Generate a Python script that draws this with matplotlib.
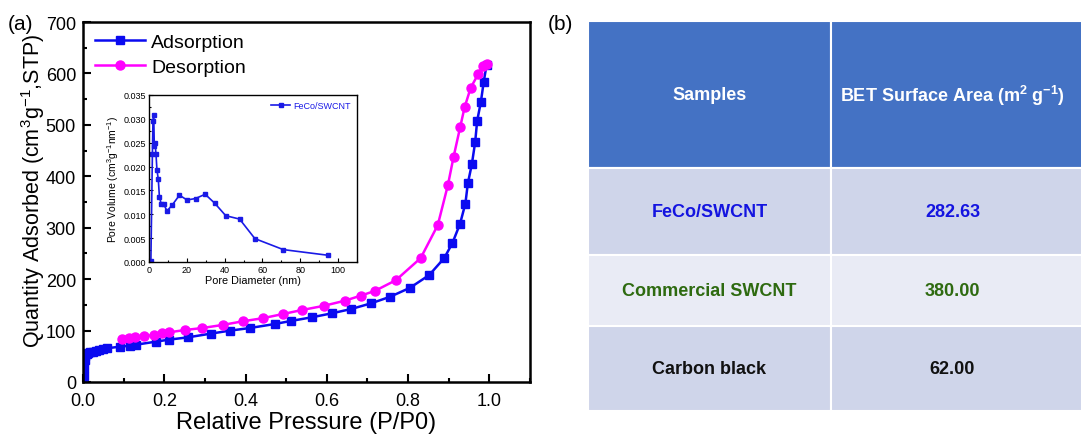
import matplotlib
matplotlib.use("Agg")
import matplotlib.pyplot as plt
from matplotlib.patches import Rectangle
from matplotlib.ticker import MultipleLocator, FormatStrFormatter

plt.rcParams['font.family'] = ['Liberation Sans', 'DejaVu Sans']
plt.rcParams['mathtext.fontset'] = 'custom'
plt.rcParams['mathtext.rm'] = 'Liberation Sans'
plt.rcParams['mathtext.bf'] = 'Liberation Sans:bold'
plt.rcParams['mathtext.default'] = 'regular'

# N2 isotherm (main panel)
ads_p = [0.001, 0.002, 0.003, 0.004, 0.006, 0.009, 0.013, 0.018, 0.024, 0.031, 0.040,
         0.050, 0.058, 0.091, 0.116, 0.131, 0.179, 0.211, 0.258, 0.314, 0.361, 0.411,
         0.472, 0.511, 0.563, 0.612, 0.660, 0.709, 0.756, 0.805, 0.852, 0.889, 0.909,
         0.928, 0.941, 0.947, 0.957, 0.965, 0.970, 0.979, 0.986, 0.993]
ads_q = [2, 12, 28, 42, 50, 54, 56, 57.5, 59, 60.5, 62, 64, 65.5, 68.7, 70.6, 72.6,
         78.4, 82.3, 86.8, 94, 99.8, 105, 112.8, 118.6, 125.8, 133.5, 141.9, 153,
         165.8, 183.3, 208, 241, 270, 308, 347, 386, 424, 466, 508, 544, 583, 616]
des_p = [0.993, 0.985, 0.972, 0.954, 0.939, 0.928, 0.912, 0.898, 0.873, 0.831, 0.770,
         0.718, 0.684, 0.644, 0.592, 0.539, 0.491, 0.442, 0.393, 0.344, 0.294, 0.250,
         0.212, 0.194, 0.174, 0.149, 0.128, 0.112, 0.097]
des_q = [618, 614, 598, 572, 534, 495, 438, 383, 305, 241, 198, 177, 168, 158, 148,
         140, 132, 124, 118, 111, 105, 101, 96.6, 94.7, 91.4, 88.8, 86.8, 85, 83.6]

# pore size distribution (inset)
pore_d = [1.0, 1.8, 2.1, 2.5, 2.8, 3.2, 3.7, 4.2, 4.9, 5.5, 6.5, 7.8, 9.5, 12.2, 16.1,
          20.1, 24.6, 29.7, 34.8, 40.6, 47.9, 56.0, 71.0, 94.9]
pore_v = [0.0003, 0.0227, 0.0296, 0.0309, 0.0243, 0.0249, 0.0226, 0.0193, 0.0174,
          0.0137, 0.0121, 0.0121, 0.0107, 0.0119, 0.0140, 0.0130, 0.0133, 0.0142,
          0.0123, 0.0097, 0.0090, 0.0049, 0.0026, 0.0014]

# table (panel b)
col_labels = ['Samples', r'BET Surface Area (m$^\mathbf{2}$ g$^\mathbf{-1}$)']
samples = ['FeCo/SWCNT', 'Commercial SWCNT', 'Carbon black']
bet_area = ['282.63', '380.00', '62.00']
text_colors = ['#1414E0', '#2E6A10', '#111111']
row_fill = ['#CFD5EA', '#E9EBF5', '#CFD5EA']

W, H = 1081, 439
fig = plt.figure(figsize=(W / 100, H / 100), dpi=100)

ax = fig.add_axes([83 / W, 56 / H, 447 / W, 360 / H])
ax.plot(ads_p, ads_q, '-s', color='#0A0AF0', lw=1.8, ms=6, label='Adsorption')
ax.plot(des_p, des_q, '-o', color='#FF00FF', lw=1.8, ms=6.5, label='Desorption')
ax.set_xlim(0, 1.1)
ax.set_ylim(0, 700)
ax.xaxis.set_major_locator(MultipleLocator(0.2))
ax.xaxis.set_minor_locator(MultipleLocator(0.1))
ax.yaxis.set_major_locator(MultipleLocator(100))
ax.yaxis.set_minor_locator(MultipleLocator(50))
ax.tick_params(which='both', direction='in', width=1.5, labelsize=13)
ax.tick_params(which='major', length=6)
ax.tick_params(which='minor', length=3)
ax.tick_params(axis='x', pad=7)
ax.tick_params(axis='y', pad=5)
for s in ax.spines.values():
    s.set_linewidth(1.8)
ax.set_xlabel('Relative Pressure (P/P0)', fontsize=17, labelpad=2)
ax.set_ylabel('Quantity Adsorbed (cm$^3$g$^{-1}$,STP)', fontsize=15.5)
ax.yaxis.set_label_coords(-0.08, 0.535)
ax.legend(loc='upper left', frameon=False, fontsize=14, handlelength=2.6,
          borderaxespad=0.2, handletextpad=0.3, labelspacing=0.35,
          bbox_to_anchor=(0.0, 1.0))
fig.text(8 / W, 1 - 24 / H, '(a)', fontsize=15, va='center', ha='left')

ins = fig.add_axes([149 / W, 176 / H, 208 / W, 167 / H])
ins.plot(pore_d, pore_v, '-s', color='#1A1AE6', lw=1.2, ms=3, label='FeCo/SWCNT')
ins.set_xlim(0, 110)
ins.set_ylim(0, 0.035)
ins.xaxis.set_major_locator(MultipleLocator(20))
ins.xaxis.set_minor_locator(MultipleLocator(10))
ins.yaxis.set_major_locator(MultipleLocator(0.005))
ins.yaxis.set_minor_locator(MultipleLocator(0.0025))
ins.tick_params(which='both', direction='in', labelsize=6.5, width=0.8, pad=2)
ins.tick_params(which='major', length=3)
ins.tick_params(which='minor', length=1.5)
ins.yaxis.set_major_formatter(FormatStrFormatter('%.3f'))
for s in ins.spines.values():
    s.set_linewidth(1.0)
ins.set_xlabel('Pore Diameter (nm)', fontsize=7.8, labelpad=1)
ins.set_ylabel('Pore Volume (cm$^3$g$^{-1}$nm$^{-1}$)', fontsize=7.5, labelpad=2)
leg = ins.legend(loc='upper right', frameon=False, fontsize=6.5, handlelength=2.2,
                 handletextpad=0.3, borderaxespad=0.3)
for t in leg.get_texts():
    t.set_color('#1A1AE6')

# panel (b) table
tb = fig.add_axes([588 / W, 27 / H, 493 / W, 390 / H])
tb.set_xlim(0, 493)
tb.set_ylim(390, 0)
tb.axis('off')
col_w = 243
row_h = [147, 87, 71, 85]
fills = ['#4472C4'] + row_fill
y0 = 0
for r, h in enumerate(row_h):
    for c in range(2):
        x0 = c * col_w
        w = col_w if c == 0 else 493 - col_w + 10
        tb.add_patch(Rectangle((x0, y0), w, h, facecolor=fills[r], edgecolor='white',
                               lw=1.5, clip_on=True))
        if r == 0:
            txt, col = col_labels[c], 'white'
        else:
            txt = samples[r - 1] if c == 0 else bet_area[r - 1]
            col = text_colors[r - 1]
        tb.text(x0 + col_w / 2, y0 + h / 2, txt, color=col, fontsize=13,
                fontweight='bold', ha='center', va='center')
    y0 += h
fig.text(548 / W, 1 - 24 / H, '(b)', fontsize=15, va='center', ha='left')

fig.savefig('out.png', dpi=100)
